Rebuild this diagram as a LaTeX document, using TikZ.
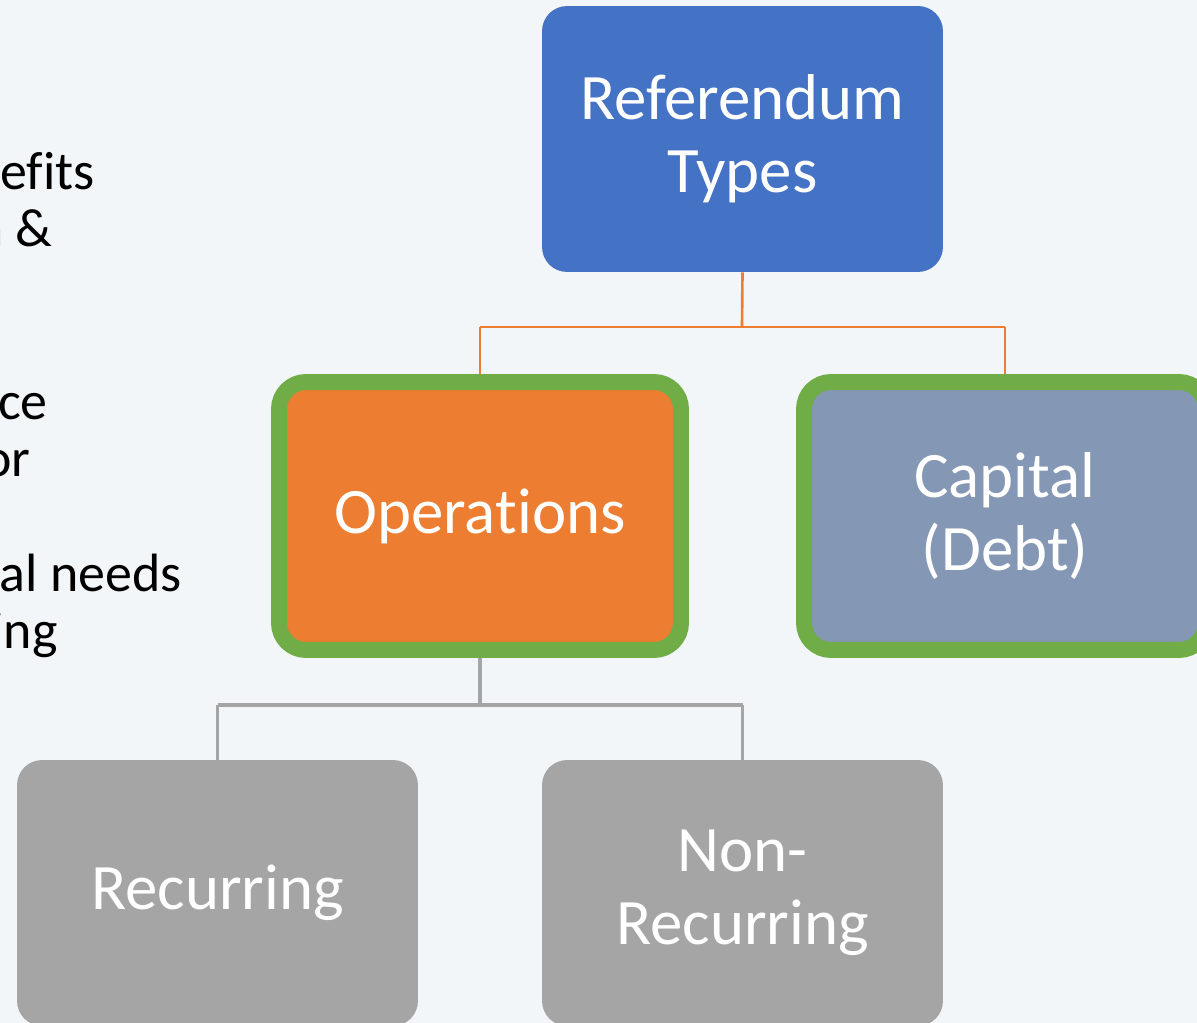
\documentclass[tikz,border=0pt]{standalone}
\usepackage{fontspec}
\setmainfont{Carlito}[Ligatures={NoCommon,NoContextual},RawFeature={-liga;-clig;-dlig;-calt}]
\definecolor{bgc}{RGB}{243,246,249}
\definecolor{blueb}{RGB}{68,114,196}
\definecolor{orangeb}{RGB}{237,125,49}
\definecolor{greenb}{RGB}{112,173,71}
\definecolor{slateb}{RGB}{132,151,180}
\definecolor{grayb}{RGB}{165,165,165}
\begin{document}
\begin{tikzpicture}[x=0.02cm,y=-0.02cm,
  box/.style={rounded corners=0.5cm, minimum width=8.02cm, minimum height=5.32cm, inner sep=0pt,
    text=white, align=center, font=\fontsize{36.9}{41.5}\selectfont},
  gbox/.style={rounded corners=0.54cm, minimum width=8.04cm, minimum height=5.36cm, inner sep=0pt,
    draw=greenb, line width=0.32cm, text=white, align=center, font=\fontsize{36.9}{41.5}\selectfont},
  oconn/.style={draw=orangeb, line width=1.5pt},
  gconn/.style={draw=grayb, line width=1.8pt},
  side/.style={anchor=base east, inner sep=0pt, text=black, font=\fontsize{30.7}{34}\selectfont}]
\fill[bgc] (0,0) rectangle (1197,1023);
\useasboundingbox (0,0) rectangle (1197,1023);
% side text (cut off at the left edge, as in the reference)
\node[side] (s1) at (95,190) {ef\kern0pt its};
\node[side] (s2) at (53,247) {n \&};
\node[side] (s3) at (48,420) {ce};
\node[side] (s4) at (31,477) {or};
\node[side] (s5) at (182,592) {al needs};
\node[side] (s6) at (58,648) {ing};
% junction coordinates
\coordinate (j1) at (742,327);
\coordinate (j2) at (480,705);
% nodes
\node[box, fill=blueb] (top) at (742.5,139) {Referendum\\Types};
\node[gbox, fill=orangeb] (ops) at (480,516) {Operat\kern0pt ions};
\node[gbox, fill=slateb] (cap) at (1005,516) {Capital\\(Debt)};
\node[box, fill=grayb] (rec) at (217.5,893) {Recurring};
\node[box, fill=grayb] (nrec) at (742.5,893) {Non-\\Recurring};
% connectors
\draw[oconn] (top.south) -- (j1);
\draw[oconn] (j1 -| ops.north) -- (j1 -| cap.north);
\draw[oconn] (j1 -| ops.north) -- (ops.north);
\draw[oconn] (j1 -| cap.north) -- (cap.north);
\draw[gconn] (ops.south) -- (j2);
\draw[gconn] (j2 -| rec.north) -- (j2 -| nrec.north);
\draw[gconn] (j2 -| rec.north) -- (rec.north);
\draw[gconn] (j2 -| nrec.north) -- (nrec.north);
\end{tikzpicture}
\end{document}
